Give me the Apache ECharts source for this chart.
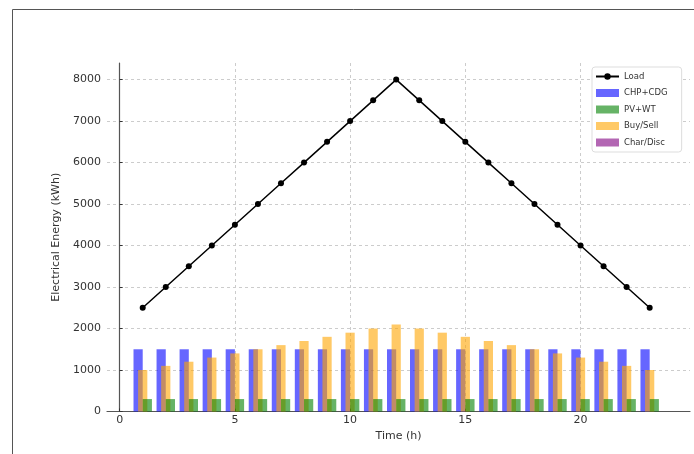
<!DOCTYPE html>
<html><head><meta charset="utf-8">
<script src="https://cdn.jsdelivr.net/npm/echarts@6/dist/echarts.min.js"></script>
<style>html,body{margin:0;padding:0;background:#fff}#c{width:694px;height:454px}</style>
</head><body><div id="c"></div>
<script>
const hours = [1,2,3,4,5,6,7,8,9,10,11,12,13,14,15,16,17,18,19,20,21,22,23];
const load = [2500,3000,3500,4000,4500,5000,5500,6000,6500,7000,7500,8000,7500,7000,6500,6000,5500,5000,4500,4000,3500,3000,2500];
const chpCdg = [1500,1500,1500,1500,1500,1500,1500,1500,1500,1500,1500,1500,1500,1500,1500,1500,1500,1500,1500,1500,1500,1500,1500];
const pvWt = [300,300,300,300,300,300,300,300,300,300,300,300,300,300,300,300,300,300,300,300,300,300,300];
const buySell = [1000,1100,1200,1300,1400,1500,1600,1700,1800,1900,2000,2100,2000,1900,1800,1700,1600,1500,1400,1300,1200,1100,1000];
const charDisc = [0,0,0,0,0,0,0,0,0,0,0,0,0,0,0,0,0,0,0,0,0,0,0];
const names = ['Load','CHP+CDG','PV+WT','Buy/Sell','Char/Disc'];

const xMin = -0.55, xMax = 24.75;
const gridLeft = 107, gridRight = 4;
const gridW = 694 - gridLeft - gridRight;
const barW = 0.4 * gridW / (xMax - xMin);
const font = 'DejaVu Sans';

function barSeries(name, vals, off, color){
  return {
    name, type:'bar', barWidth: barW, barGap:'-100%',
    data: hours.map((h,i)=>[h+off, vals[i]]),
    itemStyle:{color, opacity:0.6},
    emphasis:{disabled:true}
  };
}

const chart = echarts.init(document.getElementById('c'));
chart.setOption({
  animation:false,
  textStyle:{fontFamily:font},
  grid:{left:gridLeft, right:gridRight, top:63, bottom:42.5, containLabel:false},
  graphic:[{type:'rect', shape:{x:12.5,y:9.5,width:800,height:600}, style:{fill:'none', stroke:'#555', lineWidth:1}, silent:true, z:-1}],
  xAxis:{
    type:'value', min:xMin, max:xMax, splitNumber:5,
    name:'Time (h)', nameLocation:'middle', nameGap:18,
    nameTextStyle:{fontSize:11, color:'#333', fontFamily:font},
    axisLine:{show:true, onZero:false, lineStyle:{color:'#555', width:1.2}},
    axisTick:{show:true, inside:true, length:3, lineStyle:{color:'#333'}},
    axisLabel:{fontSize:11, color:'#333', margin:3, showMinLabel:false, showMaxLabel:false, fontFamily:font},
    splitLine:{show:true, showMinLine:false, showMaxLine:false, lineStyle:{color:'#ccc', type:[3,3], width:1}}
  },
  yAxis:{
    type:'value', min:0, max:8400, interval:1000,
    name:'Electrical Energy (kWh)', nameLocation:'middle', nameGap:42,
    nameTextStyle:{fontSize:11, color:'#333', fontFamily:font},
    axisLine:{show:true, lineStyle:{color:'#555', width:1.2}},
    axisTick:{show:true, inside:true, length:3, lineStyle:{color:'#333'}},
    axisLabel:{fontSize:11, color:'#333', margin:6, showMaxLabel:false, fontFamily:font,
      formatter:v=>String(v)},
    splitLine:{show:true, showMinLine:false, showMaxLine:false, lineStyle:{color:'#ccc', type:[3,3], width:1}}
  },
  legend:{
    orient:'vertical', left:592, top:67, padding:[5,14,5,3],
    itemWidth:23, itemHeight:8, itemGap:7.5,
    backgroundColor:'#fff', borderColor:'#ddd', borderWidth:1, borderRadius:3,
    textStyle:{fontSize:8.5, color:'#333', fontFamily:font},
    data:[{name:names[0]},{name:names[1],icon:'rect'},{name:names[2],icon:'rect'},{name:names[3],icon:'rect'},{name:names[4],icon:'rect'}]
  },
  series:[
    barSeries(names[1], chpCdg, -0.2, '#0000ff'),
    barSeries(names[3], buySell, 0, '#ffa500'),
    barSeries(names[2], pvWt, 0.2, '#008000'),
    barSeries(names[4], charDisc, 0.4, '#800080'),
    {name:names[0], type:'line', data:hours.map((h,i)=>[h,load[i]]),
     symbol:'circle', symbolSize:6, showSymbol:true,
     lineStyle:{color:'#000', width:1.5}, itemStyle:{color:'#000'}, z:5,
     emphasis:{disabled:true}}
  ]
});
</script></body></html>
